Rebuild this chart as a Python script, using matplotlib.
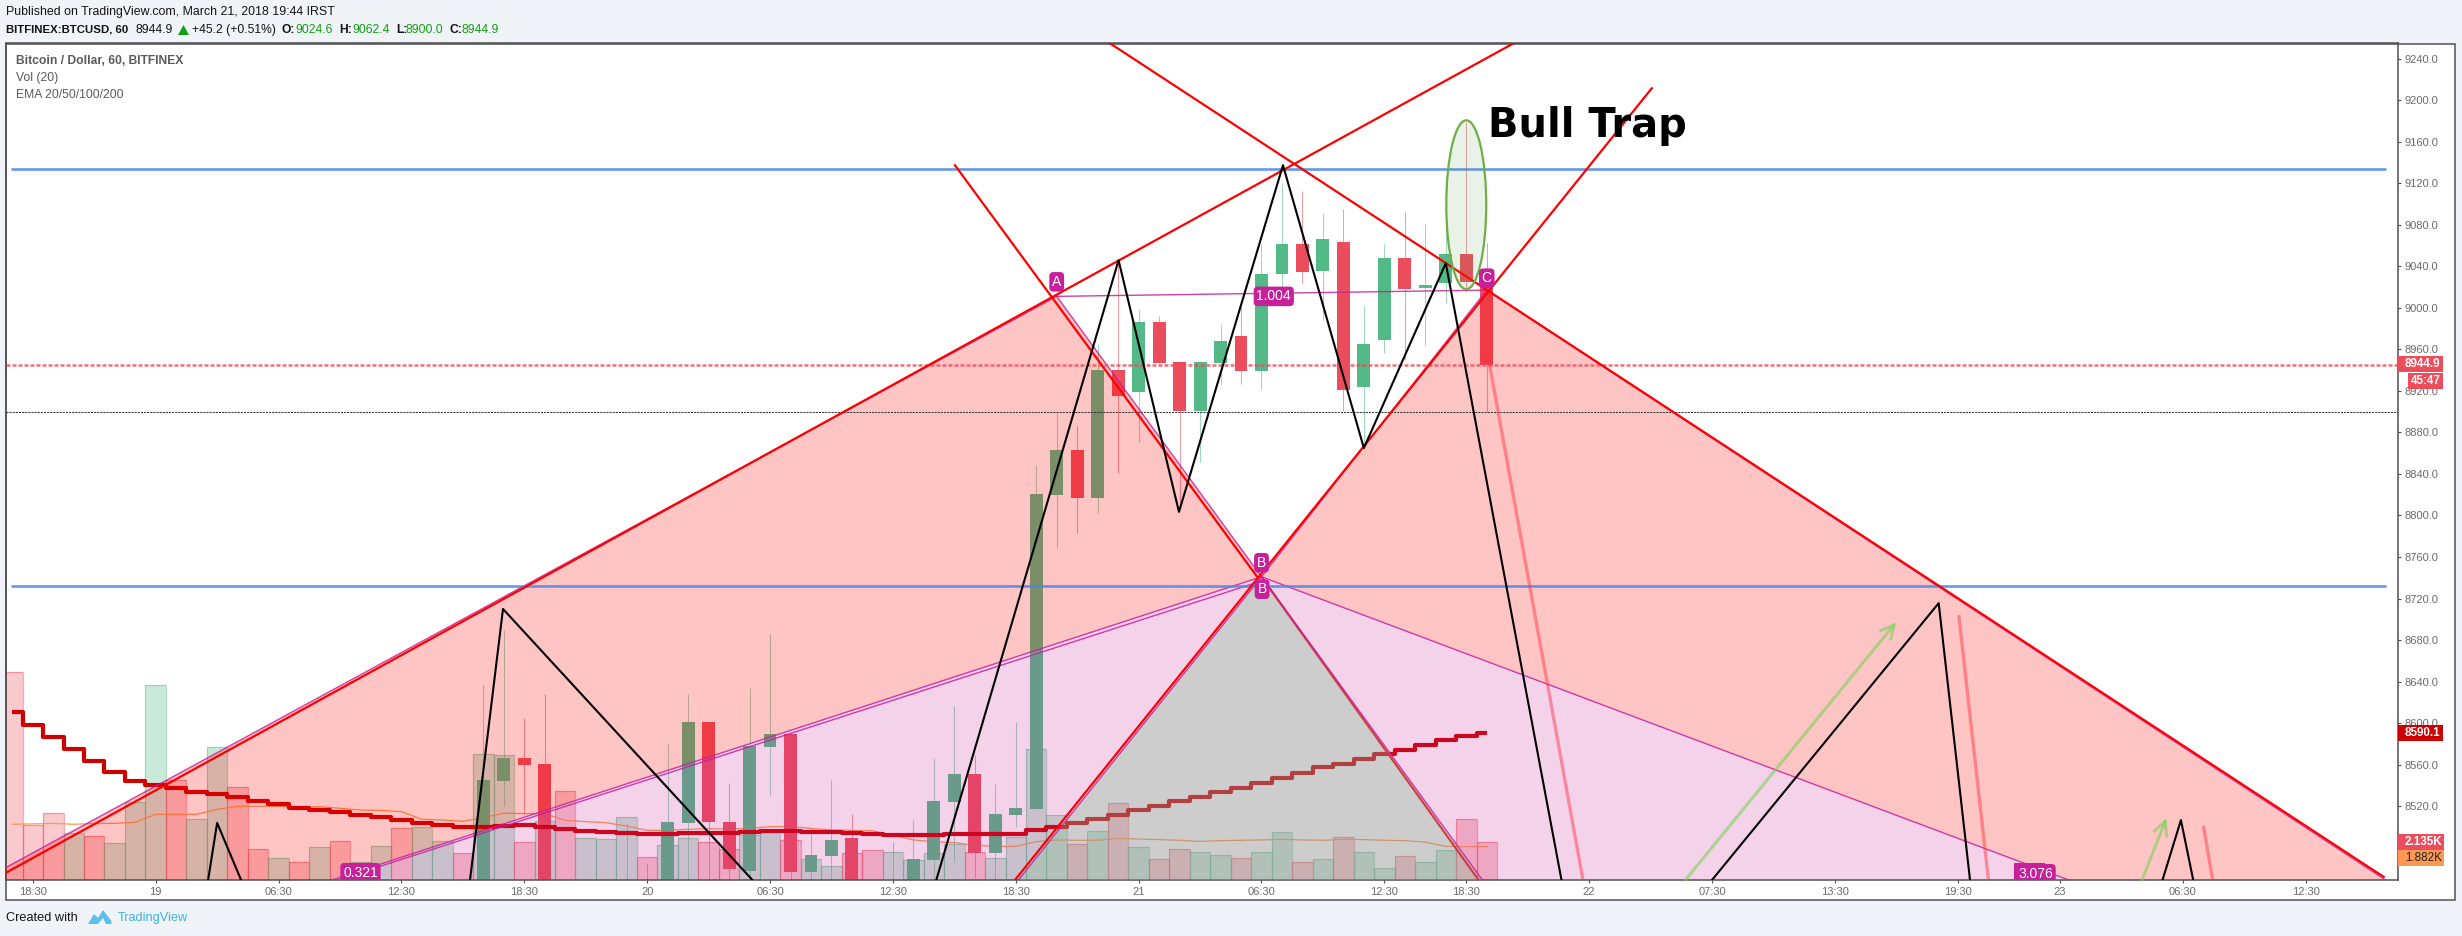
import matplotlib
matplotlib.use('Agg')
import matplotlib.pyplot as plt
import numpy as np
from matplotlib.patches import Ellipse, Polygon, Rectangle
from matplotlib.transforms import Affine2D

W, H = 2462, 936
GREEN = '#53b987'
RED = '#eb4d5c'
PATTERN = '#c8209a'

# volume (thousands), bar 0 is the first visible hour
vol_up = [0,0,0,1,0,1,1,1,0,1,1,0,0,1,0,1,0,1,1,0,1,1,0,1,1,0,1,0,1,1,
          1,0,1,1,0,0,1,1,0,1,1,0,0,1,1,1,1,0,1,1,1,1,0,1,0,1,0,0,1,1,
          0,1,1,0,1,0,1,1,0,1,1,0,0]
volume = [11.69,3.11,3.75,2.64,2.45,2.08,4.36,10.94,5.60,3.41,7.45,5.21,1.72,1.22,0.99,
          1.84,2.17,0.99,1.89,2.90,2.98,2.17,1.50,7.06,7.00,2.12,3.30,4.98,2.34,2.29,
          3.55,1.27,1.95,2.36,2.12,1.74,2.51,2.83,2.23,1.16,0.77,1.50,1.67,1.55,1.11,
          1.50,2.02,1.55,1.22,2.43,7.34,3.63,2.00,2.73,4.31,1.84,1.16,1.72,1.55,1.39,
          1.24,1.55,2.68,0.99,1.16,2.40,1.55,0.66,1.33,0.99,1.67,3.41,2.135]
vol_ma = [3.13,3.15,3.18,3.13,3.17,3.18,3.24,3.69,3.69,3.69,3.97,4.14,4.14,4.14,4.08,
          4.12,4.03,3.93,3.91,3.84,3.41,3.37,3.30,3.50,3.75,3.73,3.73,3.35,3.28,3.22,
          3.03,2.79,2.79,2.85,2.88,2.87,2.90,3.00,3.00,2.90,2.81,2.79,2.77,2.51,2.25,
          2.15,2.10,1.95,1.89,1.89,2.15,2.25,2.23,2.23,2.34,2.30,2.27,2.23,2.17,2.21,
          2.23,2.25,2.28,2.25,2.23,2.28,2.27,2.23,2.21,2.13,1.89,1.87,1.882]

ema = [8610.7,8598.2,8586.6,8575.0,8563.5,8552.9,8544.3,8540.4,8537.5,8533.7,8531.7,8528.9,
       8525.0,8522.1,8518.3,8516.3,8514.4,8511.5,8509.6,8506.7,8503.8,8501.9,8500.0,8500.0,
       8500.9,8501.9,8500.0,8498.0,8496.1,8495.2,8493.9,8493.5,8493.5,8493.9,8493.9,8494.5,
       8495.5,8496.4,8496.1,8495.2,8494.8,8494.2,8493.2,8492.6,8492.6,8492.6,8493.2,8493.2,
       8493.2,8493.2,8497.0,8500.0,8504.1,8507.7,8511.5,8516.3,8520.5,8525.0,8528.5,8533.3,
       8537.5,8542.3,8547.1,8552.3,8558.0,8560.9,8565.7,8570.6,8574.4,8579.2,8584.0,8587.9,8590.1]

# candles that show on the chart
candle_idx = [23,24,25,26,30,31,32,33,34,35,36,37,38,39,40,41,43,44,45,46,47,48,49,
              50,51,52,53,54,55,56,57,58,59,60,61,62,63,64,65,66,67,68,69,70,71,72]
candle_open = [8435,8544.3,8566.4,8560.6,8430,8440,8435,8503.8,8601,8504.8,8457.6,8577,8590,8457,8472.4,8489.4,8435,8435,8468,8524.4,8551,8475,8511.5,
               8517,8819.6,8862.9,8817,8940,8918.8,8986,8947.6,8901,8946.4,8972.7,8939,9032.4,9061.2,9035.2,9063.2,8923.6,8968.8,9047.8,9018.9,9023.7,9051.6,9024.6]
candle_close = [8545.2,8566.4,8559.7,8435,8440,8430,8504.8,8601,8505,8459.9,8578,8590,8457,8472.7,8487.5,8435,8440,8469,8525,8551,8475.3,8513,8518,
                8820.6,8862.9,8817,8940,8915,8986,8946.4,8901,8947.6,8967.8,8939,9032.4,9061.2,9034.3,9066,8920.7,8965,9047.8,9017.9,9021.8,9051.6,9024.7,8944.9]
candle_high = [8636.7,8690,8604.9,8628,8503.5,8465,8580.5,8628,8601,8542.6,8633.8,8685.8,8590,8498.7,8545,8513,8486,8506.7,8566.4,8616.5,8569,8541.4,8601,
               8848.5,8900.8,8886,8965.6,9045.8,8998.7,8991.9,8947.6,8949,8984,9000.9,9061.9,9120,9112,9091.7,9095.6,9001.6,9061,9092,9081,9126,9179,9062.4]
candle_low = [8430,8520.5,8513,8430,8425,8425,8430,8440,8440,8440,8450,8530,8440,8440,8440,8430,8430,8430,8440,8466.6,8451,8440,8500,
              8517,8768.3,8783.3,8802,8841,8871,8946.4,8806.8,8851.7,8925.5,8926.5,8922,9018.6,9024,8988,8901,8864.5,8956.6,8949.6,8963,9004.7,9015,8900]

# pattern points (bar, price)
pt_x = (-27, 8175)
pt_a = (51, 9011)
pt_b = (61, 8741)
pt_b2 = (61, 8737)
pt_c = (72, 9017)
pt_d = (136.6, 8181)
gray_l = (47.14, 8400)
gray_r = (73.6, 8400)

# hand drawn lines (bar, price)
red_lines = [[(-0.31, 8456), (73.4, 9255.7)],
             [(46.03, 9137.3), (60.8, 8740.7)],
             [(53.6, 9254.7), (115.8, 8452)],
             [(48.96, 8449), (80.06, 9211.4)]]
red_under = [(61, 8740.7), (71.6, 8449)]
black_lines = [[(9.56, 8449), (10, 8504), (11.17, 8449)],
               [(22.35, 8449), (23.96, 8710), (36.14, 8449)],
               [(45.12, 8449), (54.02, 9045.8), (56.97, 8803.5), (62.05, 9137.3), (66, 8864.9), (70, 9043), (75.65, 8449)],
               [(83, 8449), (94.07, 8715.6), (95.6, 8449)],
               [(105, 8449), (105.9, 8506.7), (106.5, 8449)]]
salmon_lines = [[(72, 8960.3), (76.7, 8449)],
                [(95.05, 8704), (96.5, 8449)],
                [(107, 8501), (107.45, 8449)]]
green_arrows = [[(81.7, 8449), (92.0, 8697.4)],
                [(104, 8449), (105.2, 8508.7)]]
hlines_blue = [9134, 8731.7]
last_price = 8944.9
day_low = 8900.0

tick_pos = [1,7,13,19,25,31,37,43,49,55,61,67,71,77,83,89,95,100,106,112]
tick_lab = ['18:30','19','06:30','12:30','18:30','20','06:30','12:30','18:30','21',
            '06:30','12:30','18:30','22','07:30','13:30','19:30','23','06:30','12:30']
price_ticks = np.arange(8520, 9241, 40)

plt.rcParams['font.family'] = ['Liberation Sans', 'DejaVu Sans']
fig = plt.figure(figsize=(W/100, H/100), dpi=100, facecolor='#f0f3f7')
px = Affine2D().scale(1/W, -1/H).translate(0, 1) + fig.transFigure

fig.add_artist(Rectangle((5.5, 43.5), 2449, 856, transform=px, fc='white', ec='#4f4f4f', lw=1.1, zorder=-5))

rect = [6/W, (H-880)/H, (2398-6)/W, (880-43.3)/H]
ax_vol = fig.add_axes(rect, zorder=0, facecolor='white')
ax = fig.add_axes(rect, zorder=1, facecolor='none')

# volume underneath
x_all = np.arange(len(volume))
for i, v in zip(x_all, volume):
    c = GREEN if vol_up[i] else RED
    ax_vol.bar(i, v, width=1.0, color=c, alpha=0.3)
    ax_vol.bar(i, v, width=1.0, fill=False, edgecolor=c, alpha=0.45, lw=0.9)
ax_vol.plot(x_all, vol_ma, color='#ff9850', lw=0.9)
ax_vol.set_xlim(-0.31, 116.5)
ax_vol.set_ylim(0, 47.0)
ax_vol.axis('off')

ax.set_xlim(-0.31, 116.5)
ax.set_ylim(8449, 9254.7)

# candles
colors = [GREEN if c >= o else RED for o, c in zip(candle_open, candle_close)]
ax.vlines(candle_idx, candle_low, candle_high, colors=colors, lw=0.75, alpha=0.55, zorder=2)
bottoms = np.minimum(candle_open, candle_close)
heights = np.abs(np.array(candle_close) - np.array(candle_open))
ax.bar(candle_idx, heights, bottom=bottoms, width=0.63, color=colors, zorder=2.1)

ax.plot(x_all, ema, color='#cc0000', lw=3.0, drawstyle='steps-mid', solid_capstyle='butt', zorder=2.5)
ax.plot(*zip(*red_under), color='#ff0000', lw=1.6, zorder=2.6)

# pattern fills, kept apart so they do not mix
ax.add_patch(Polygon([pt_x, pt_a, pt_b], fc='#ff0000', alpha=0.23, ec='none', zorder=3))
ax.add_patch(Polygon([pt_b, pt_c, pt_d], fc='#ff0000', alpha=0.23, ec='none', zorder=3))
ax.add_patch(Polygon([pt_x, pt_b, pt_d, gray_r, pt_b, gray_l], fc=PATTERN, alpha=0.2, ec='none', zorder=3))
ax.add_patch(Polygon([pt_b, gray_l, gray_r], fc='#929292', alpha=0.45, ec='none', zorder=3))

for a, b in [(pt_x, pt_a), (pt_a, pt_b), (pt_b, pt_c), (pt_c, pt_d), (pt_x, pt_b), (pt_x, pt_b2),
             (pt_b, pt_d), (pt_a, pt_c), (pt_b, gray_l), (pt_b, gray_r)]:
    ax.plot([a[0], b[0]], [a[1], b[1]], color=PATTERN, lw=1.0, alpha=0.85, zorder=3.2)

ax.axhline(last_price, color=RED, lw=1.8, alpha=0.8, ls=(0, (1.6, 0.8)), zorder=3.3)
ax.axhline(day_low, color='#333333', lw=0.75, ls=(0, (2, 1)), zorder=3.3)
for p in hlines_blue:
    ax.plot([-0.06, 115.9], [p, p], color='#4a86e8', lw=1.9, alpha=0.85, solid_capstyle='butt', zorder=3.4)

for line in red_lines:
    ax.plot(*zip(*line), color='#ff0000', lw=1.6, zorder=3.6)
for line in salmon_lines:
    ax.plot(*zip(*line), color='#ff3040', lw=2.4, alpha=0.45, solid_capstyle='butt', zorder=3.5)
for line in black_lines:
    ax.plot(*zip(*line), color='black', lw=1.5, zorder=3.7)
for start, end in green_arrows:
    ax.annotate('', xy=end, xytext=start, zorder=3.5, annotation_clip=False,
                arrowprops=dict(arrowstyle='->', color='#7dd356', alpha=0.6, lw=2.2, mutation_scale=24, shrinkA=0, shrinkB=0))

ax.add_patch(Ellipse((71.0, 9099.2), 1.95, 162.7, fc='#6aa84f', ec='none', alpha=0.14, zorder=3.8))
ax.add_patch(Ellipse((71.0, 9099.2), 1.95, 162.7, fc='none', ec='#70ad47', lw=1.6, zorder=3.8))

ax.text(72.05, 9175, 'Bull Trap', family='DejaVu Sans', fontweight='bold', fontsize=28.8, color='black',
        va='center', ha='left', zorder=6)

# second 3.076 label sticks out behind the first one
ax.add_patch(Rectangle((97.75, 8449), 1.5, 16.5, fc=PATTERN, ec='none', zorder=6.5))

pattern_labels = [('A', 51, 9025), ('B', 61, 8754.5), ('B', 61.03, 8729), ('C', 72, 9028.5),
                  ('1.004', 61.6, 9011), ('0.321', 17, 8456), ('3.076', 98.8, 8455)]
for s, x, y in pattern_labels:
    ax.text(x, y, s, color='white', fontsize=10, ha='center', va='center', zorder=7, clip_on=True,
            bbox=dict(boxstyle='round,pad=0.2,rounding_size=0.3', fc=PATTERN, ec='none'))

# axes and ticks
ax.yaxis.tick_right()
ax.set_yticks(price_ticks)
ax.set_yticklabels([f'{p:.1f}' for p in price_ticks])
ax.set_xticks(tick_pos)
ax.set_xticklabels(tick_lab)
ax.tick_params(axis='both', colors='#4f4f4f', labelcolor='#6b6b6b', labelsize=8.0, length=2.5, width=0.8, pad=2.5)
for s in ax.spines.values():
    s.set_color('#4f4f4f')
    s.set_linewidth(1.1)

# boxes on the price scale
def scale_box(y0, y1, x1, color, text, text_color='white', x0=2398, bold=True, tx=None):
    fig.add_artist(Rectangle((x0, y0), x1-x0, y1-y0, transform=px, fc=color, ec='none', zorder=5))
    fig.text(tx if tx else 2405, (y0+y1)/2, text, transform=px, color=text_color, fontsize=8.4, zorder=6,
             va='center', ha='left', fontweight='bold' if bold else 'normal')

scale_box(356, 371.7, 2443, RED, '8944.9')
scale_box(373, 389, 2443, RED, '45:47', x0=2408, tx=2411)
scale_box(725, 741, 2443, '#cc0000', '8590.1')
scale_box(834, 850, 2444, RED, '2.135K')
scale_box(850, 866, 2444, '#ff9850', '1.882K', text_color='#222222', bold=False)

# header and footer
def txt(x, y, s, color='#131313', bold=False, size=8.9):
    fig.text(x, y, s, transform=px, color=color, fontsize=size, va='center', ha='left',
             fontweight='bold' if bold else 'normal')

txt(6, 12, 'Published on TradingView.com, March 21, 2018 19:44 IRST')
txt(6, 30, 'BITFINEX:BTCUSD, 60', bold=True, size=8.2)
txt(136, 30, '8944.9', size=8.7)
fig.add_artist(Polygon([(178, 35), (183.5, 25), (189, 35)], transform=px, fc='#12a012', ec='none'))
txt(192, 30, '+45.2 (+0.51%)', size=8.7)
for lab, lx, val, vx in [('O:', 281, '9024.6', 295.5), ('H:', 339, '9062.4', 352),
                         ('L:', 396, '8900.0', 406), ('C:', 450, '8944.9', 461)]:
    txt(lx, 30, lab, bold=True, size=8.7)
    txt(vx, 30, val, color='#12a012', size=8.7)

txt(15.5, 61, 'Bitcoin / Dollar, 60, BITFINEX', color='#5a5a5a', bold=True, size=8.7)
txt(15.5, 78, 'Vol (20)', color='#5a5a5a', size=8.7)
txt(15.5, 95, 'EMA 20/50/100/200', color='#5a5a5a', size=8.7)

txt(6, 918, 'Created with', size=9.2)
txt(118, 918, 'TradingView', color='#3bb3e4', size=9.2)
fig.add_artist(Polygon([(88, 924), (94, 914), (98, 918), (103, 910), (111.5, 921), (111.5, 924),
                        (106, 924), (103, 918), (98, 924)], transform=px, fc='#5cc0e8', ec='none'))

fig.savefig('out.png', dpi=100)
